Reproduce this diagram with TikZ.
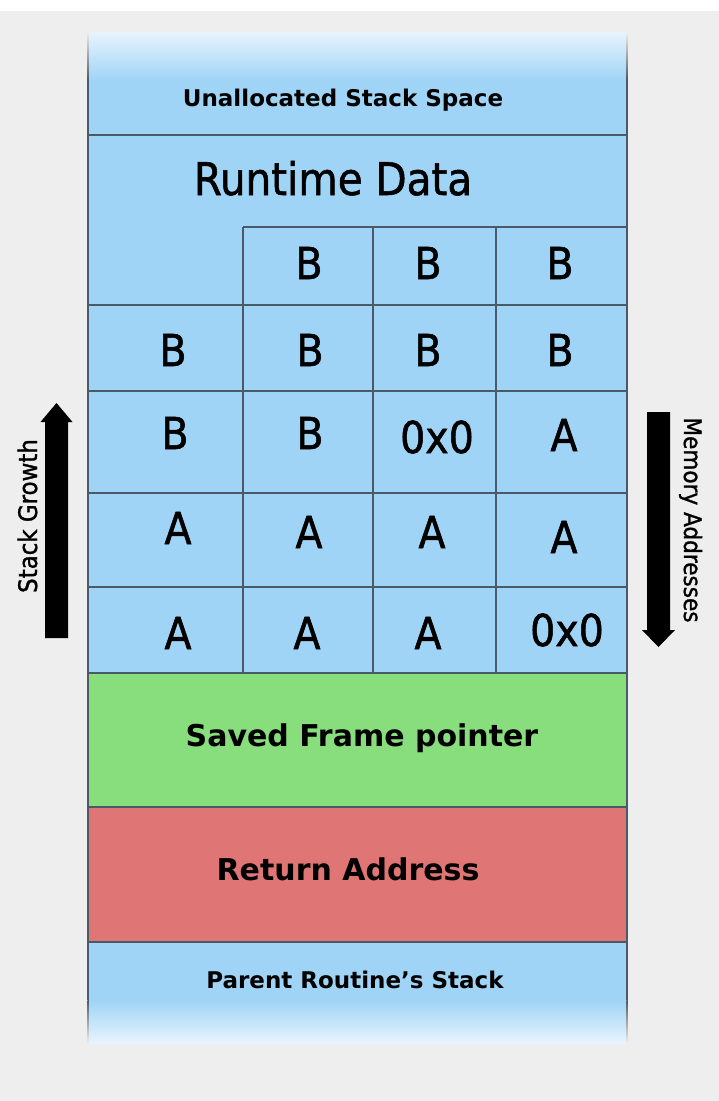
\documentclass[tikz,border=0pt]{standalone}
\usepackage{fontspec}
\setmainfont{DejaVu Sans}
\newfontfamily\narrowsans[FakeBold=1.2]{DejaVu Sans Condensed}
\definecolor{bg}{HTML}{EEEEEE}
\definecolor{stackblue}{HTML}{A0D4F6}
\definecolor{fadeblue}{HTML}{E8F4FD}
\definecolor{framegreen}{HTML}{88DE7C}
\definecolor{retred}{HTML}{E07575}
\definecolor{gridline}{HTML}{4A5A66}
\begin{document}
\begin{tikzpicture}[x=1pt,y=-1pt,
  rule/.style={draw=gridline,line width=1.5pt},
  cell/.style={font=\narrowsans\fontsize{44}{48}\selectfont},
  title/.style={font=\bfseries\fontsize{23}{26}\selectfont,anchor=base},
  region/.style={font=\bfseries\fontsize{30}{34}\selectfont,anchor=base},
  side/.style={font=\narrowsans\fontsize{25.5}{28}\selectfont,anchor=base},
  blockarrow/.style={fill=black}]
\useasboundingbox (0,0) rectangle (719,1101);
% backdrop
\fill[bg] (0,0) rectangle (719,1101);
\fill[white] (0,0) rectangle (719,11);

% stack column with faded ends
\fill[stackblue] (88,80) rectangle (627,1000);
\shade[top color=fadeblue, bottom color=stackblue] (88,32) rectangle (627,80);
\shade[top color=stackblue, bottom color=fadeblue] (88,1000) rectangle (627,1043);
\fill[framegreen] (88,673) rectangle (627,807);
\fill[retred] (88,807) rectangle (627,942);

% outer borders
\draw[rule] (88,80) -- (88,1000);
\draw[rule] (627,80) -- (627,1000);
\shade[top color=bg, bottom color=gridline] (87.25,32) rectangle (88.75,80);
\shade[top color=bg, bottom color=gridline] (626.25,32) rectangle (627.75,80);
\shade[top color=gridline, bottom color=bg] (87.25,1000) rectangle (88.75,1043);
\shade[top color=gridline, bottom color=bg] (626.25,1000) rectangle (627.75,1043);

% section and row separators
\foreach \y in {135,305,391,493,587,673,807,942}
  \draw[rule] (88,\y) -- (627,\y);
\draw[rule] (243,227) -- (627,227);
\foreach \x in {243,373,496}
  \draw[rule] (\x,227) -- (\x,673);

% labels of the regions
\node[title] (unalloc) at (343,106) {Unallocated Stack Space};
\node[font=\narrowsans\fontsize{45}{48}\selectfont,anchor=base] (runtime) at (333,195) {Runtime Data};
\node[region] (sfp) at (362,746) {Saved Frame pointer};
\node[region] (ret) at (348,880) {Return Address};
\node[title] (parent) at (355,988) {Parent Routine’s Stack};

% buffer contents
\node[cell] (r1c2) at (309,263) {B};
\node[cell] (r1c3) at (428,263) {B};
\node[cell] (r1c4) at (560,263) {B};
\node[cell] (r2c1) at (173,350) {B};
\node[cell] (r2c2) at (310,350) {B};
\node[cell] (r2c3) at (428,350) {B};
\node[cell] (r2c4) at (560,350) {B};
\node[cell] (r3c1) at (175,433) {B};
\node[cell] (r3c2) at (310,433) {B};
\node[cell] (r3c3) at (437,437) {0x0};
\node[cell] (r3c4) at (564,435) {A};
\node[cell] (r4c1) at (178,528) {A};
\node[cell] (r4c2) at (309,532) {A};
\node[cell] (r4c3) at (432,532) {A};
\node[cell] (r4c4) at (564,537) {A};
\node[cell] (r5c1) at (178,633) {A};
\node[cell] (r5c2) at (307,633) {A};
\node[cell] (r5c3) at (428,633) {A};
\node[cell] (r5c4) at (567,630) {0x0};

% growth direction arrows
\fill[blockarrow] (56.5,403) -- (72.5,422) -- (68,422) -- (68,638)
  -- (45,638) -- (45,422) -- (40.5,422) -- cycle;
\node[side,rotate=90] (growth) at (37,516) {Stack Growth};
\fill[blockarrow] (658.5,647) -- (675,630) -- (670,630) -- (670,412)
  -- (647,412) -- (647,630) -- (642,630) -- cycle;
\node[side,rotate=-90,font=\narrowsans\fontsize{24}{27}\selectfont] (memaddr) at (684,520) {Memory Addresses};
\end{tikzpicture}
\end{document}
